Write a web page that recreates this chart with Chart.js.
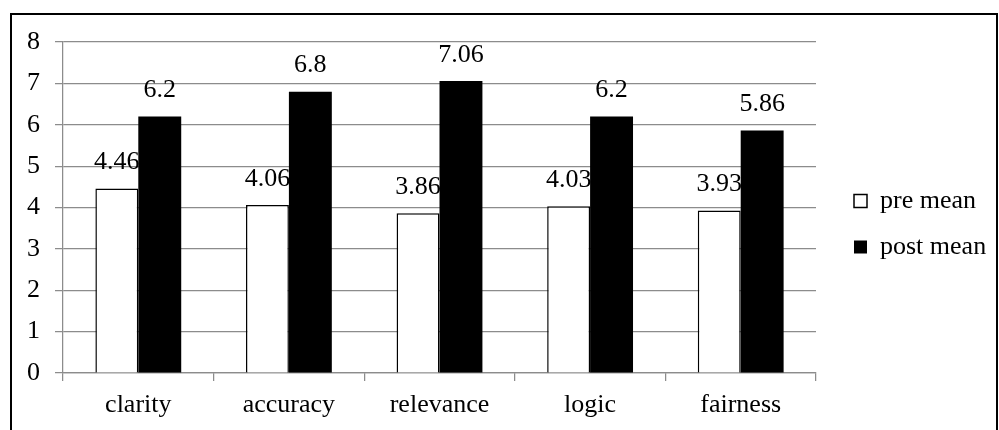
<!DOCTYPE html>
<html>
<head>
<meta charset="utf-8">
<title>pre mean / post mean</title>
<script src="https://cdn.jsdelivr.net/npm/chart.js@4.4.1/dist/chart.umd.min.js"></script>
<style>
    html, body { margin: 0; padding: 0; background: #fff; }
    #wrap { position: relative; width: 999px; height: 430px; overflow: hidden; }
    #frame {
        position: absolute; left: 10px; top: 13px; width: 988px; height: 440px;
        border: 2px solid #000; box-sizing: border-box; pointer-events: none;
    }
</style>
</head>
<body>
<div id="wrap">
    <canvas id="myChart"></canvas>
    <div id="frame"></div>
</div>
<script>
const categorias = ['clarity', 'accuracy', 'relevance', 'logic', 'fairness'];
const preMean = [4.46, 4.06, 3.86, 4.03, 3.93];
const postMean = [6.2, 6.8, 7.06, 6.2, 5.86];
const yTicks = [0, 1, 2, 3, 4, 5, 6, 7, 8];

const fuente = '"Liberation Serif", "Times New Roman", serif';
const gris = '#8c8c8c';
const tam = 26;

Chart.defaults.font.family = fuente;
Chart.defaults.font.size = tam;
Chart.defaults.color = '#000';

// numbers above each bar
const etiquetas = {
    id: 'etiquetas',
    afterDatasetsDraw(chart) {
        const ctx = chart.ctx;
        ctx.save();
        ctx.font = tam + 'px ' + fuente;
        ctx.fillStyle = '#000';
        ctx.textAlign = 'center';
        ctx.textBaseline = 'middle';
        chart.data.datasets.forEach(function (ds, i) {
            chart.getDatasetMeta(i).data.forEach(function (bar, j) {
                ctx.fillText(String(ds.data[j]), bar.x, bar.y - 26);
            });
        });
        ctx.restore();
    }
};

// legend box fixed in width and moved where excel puts it
const leyendaFija = {
    id: 'leyendaFija',
    beforeLayout(chart) {
        var lg = chart.legend;
        if (lg && !lg._fijo) {
            var fit = lg.fit;
            lg.fit = function () { fit.call(this); this.width = 183; };
            lg._fijo = true;
        }
    },
    afterLayout(chart) {
        var lg = chart.legend;
        lg.left = 834;
        lg.right = 999;
        lg.top = 168;
        lg.bottom = 430;
    }
};

const data = {
    labels: categorias,
    datasets: [
        {
            label: 'pre mean',
            data: preMean,
            backgroundColor: '#fff',
            borderColor: '#000',
            borderWidth: 1.5
        },
        {
            label: 'post mean',
            data: postMean,
            backgroundColor: '#000',
            borderColor: '#000',
            borderWidth: 0
        }
    ]
};

const config = {
    type: 'bar',
    data: data,
    options: {
        responsive: true,
        maintainAspectRatio: false,
        animation: false,
        categoryPercentage: 0.57,
        barPercentage: 1,
        layout: { padding: { top: 42, left: 0, right: 0, bottom: 0 } },
        plugins: {
            tooltip: { enabled: false },
            legend: {
                position: 'right',
                align: 'start',
                labels: {
                    boxWidth: 13,
                    boxHeight: 13,
                    padding: 20,
                    color: '#000',
                    font: { size: tam }
                }
            }
        },
        scales: {
            x: {
                grid: { drawOnChartArea: false, drawTicks: true, tickLength: 8, color: gris, lineWidth: 1.25 },
                border: { color: gris, width: 1.25 },
                ticks: { padding: 9, font: { size: tam }, color: '#000' },
                afterFit: function (scale) { scale.height = 57; }
            },
            y: {
                min: 0,
                max: 8,
                grid: { drawTicks: true, tickLength: 8, color: gris, lineWidth: 1.25 },
                border: { color: gris, width: 1.25 },
                ticks: { padding: 15, font: { size: tam }, color: '#000' },
                afterBuildTicks: function (scale) {
                    scale.ticks = yTicks.map(function (v) { return { value: v }; });
                },
                afterFit: function (scale) { scale.width = 63; }
            }
        }
    },
    plugins: [etiquetas, leyendaFija]
};

const ctx = document.getElementById('myChart').getContext('2d');
new Chart(ctx, config);
</script>
</body>
</html>
